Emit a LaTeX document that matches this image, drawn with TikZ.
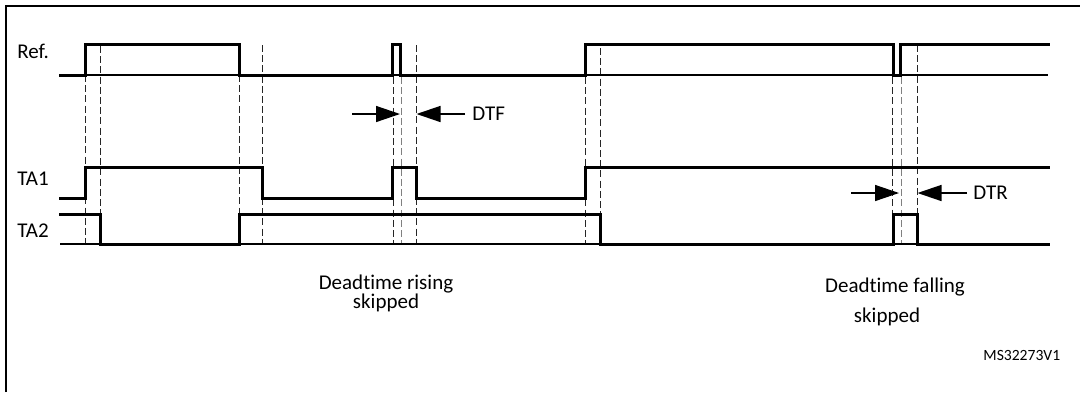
\documentclass[tikz,border=0pt]{standalone}
\usepackage{fontspec}
\setmainfont{Carlito}[Ligatures={NoCommon}]
\usetikzlibrary{arrows.meta}
\tikzset{
  sig/.style={line width=1.5pt, line join=miter, line cap=rect},
  base/.style={line width=1pt},
  guide/.style={line width=0.5pt, dash pattern=on 3.5pt off 1.6pt, black!85},
  guidelight/.style={line width=0.5pt, dash pattern=on 3.5pt off 1.6pt, black!50},
  dtarrow/.style={line width=0.7pt, -{Triangle[length=12pt,width=8pt]}},
  lbl/.style={font=\fontsize{10.5}{12}\selectfont, inner sep=0pt},
  captext/.style={font=\fontsize{10.5}{12}\selectfont, inner sep=0pt, anchor=base},
  tagtext/.style={font=\fontsize{7.8}{9}\selectfont, inner sep=0pt, anchor=base west}
}
\begin{document}
\begin{tikzpicture}[x=0.5pt,y=-0.5pt]
\useasboundingbox (0,0) rectangle (1080,392);
% frame
\draw[line width=1.4pt] (6,392) -- (6,6) -- (1080,6);
% guide lines
\foreach \x/\y in {85/75,100/46,239/75,262/45,393/77,416/45,585.7/77,600.7/48,892.5/77,917/45}
  \draw[guide] (\x,\y) -- (\x,244);
\foreach \x in {401,901}
  \draw[guidelight] (\x,77) -- (\x,244);
% baselines
\draw[base] (60,75) -- (1048,75);
\draw[base] (60,244) -- (1048,244);
% Ref
\draw[sig] (60,75) -- (85,75) -- (85,44) -- (239,44) -- (239,75) -- (392,75) -- (392,44) -- (400,44) -- (400,75) -- (585.7,75) -- (585.7,44) -- (893,44) -- (893,75) -- (900,75) -- (900,44) -- (1048,44);
% TA1
\draw[sig] (60,198) -- (85,198) -- (85,167) -- (262,167) -- (262,198) -- (392,198) -- (392,167) -- (416,167) -- (416,198) -- (585.7,198) -- (585.7,167) -- (1048,167);
% TA2
\draw[sig] (60,214) -- (100,214) -- (100,244) -- (239,244) -- (239,214) -- (600.3,214) -- (600.3,244) -- (893.5,244) -- (893.5,214) -- (917,214) -- (917,244) -- (1048,244);
% labels
\node[lbl, anchor=west] (ref) at (17,51.5) {Ref.};
\node[lbl, anchor=west] (ta1) at (17,179) {TA1};
\node[lbl, anchor=west] (ta2) at (17,231) {TA2};
% DTF
\coordinate (dtfa) at (352,114);
\coordinate (dtfb) at (400,114);
\coordinate (dtfc) at (465,114);
\coordinate (dtfd) at (416.5,114);
\draw[dtarrow] (dtfa) -- (dtfb);
\draw[dtarrow] (dtfc) -- (dtfd);
\node[lbl, anchor=west] (dtf) at (472,114) {DTF};
% DTR
\coordinate (dtra) at (851,193);
\coordinate (dtrb) at (899,193);
\coordinate (dtrc) at (967,193);
\coordinate (dtrd) at (917.5,193);
\draw[dtarrow] (dtra) -- (dtrb);
\draw[dtarrow] (dtrc) -- (dtrd);
\node[lbl, anchor=west] (dtr) at (973,193) {DTR};
% captions
\node[captext] (dr1) at (386,289) {Deadtime rising};
\node[captext] (dr2) at (386,308) {skipped};
\node[captext] (df1) at (895,292) {Deadtime falling};
\node[captext] (df2) at (887,322) {skipped};
\node[tagtext] (ms) at (983,360) {MS32273V1};
\end{tikzpicture}
\end{document}
